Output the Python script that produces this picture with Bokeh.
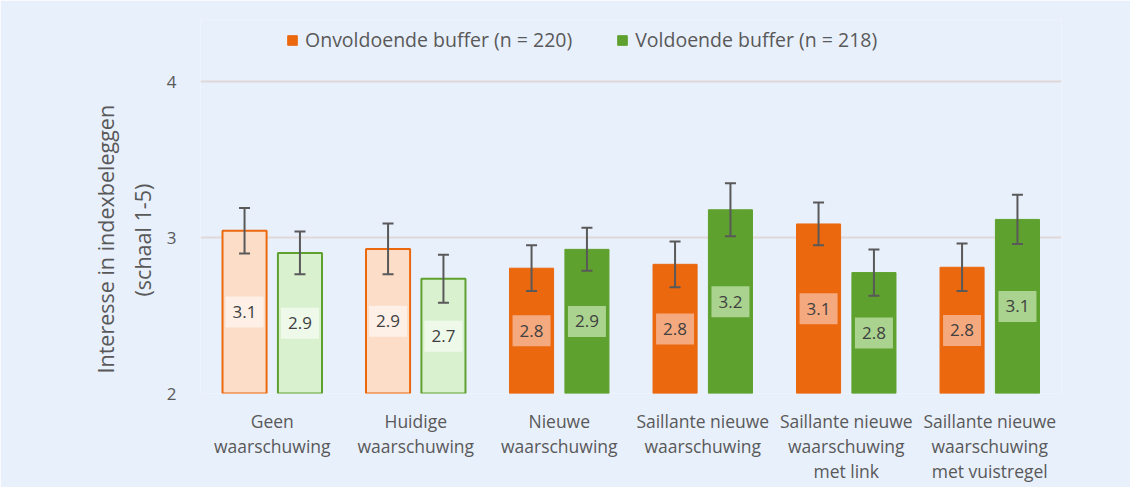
from bokeh.plotting import figure
from bokeh.models import (ColumnDataSource, FactorRange, Range1d, Whisker, TeeHead,
                          Legend, LegendItem, FixedTicker, Title)
from bokeh.transform import dodge
from bokeh.core.properties import value
from bokeh.embed import file_html
from bokeh.resources import INLINE

# ---------------- data ----------------
categories = [
    "Geen\nwaarschuwing",
    "Huidige\nwaarschuwing",
    "Nieuwe\nwaarschuwing",
    "Saillante nieuwe\nwaarschuwing",
    "Saillante nieuwe\nwaarschuwing\nmet link",
    "Saillante nieuwe\nwaarschuwing\nmet vuistregel",
]
onvoldoende = [3.045, 2.928, 2.804, 2.829, 3.088, 2.810]
voldoende = [2.902, 2.736, 2.925, 3.179, 2.776, 3.117]
onvoldoende_err = [0.146, 0.163, 0.147, 0.147, 0.137, 0.153]
voldoende_err = [0.137, 0.154, 0.138, 0.170, 0.148, 0.158]
onvoldoende_labels = ["3.1", "2.9", "2.8", "2.8", "3.1", "2.8"]
voldoende_labels = ["2.9", "2.7", "2.9", "3.2", "2.8", "3.1"]
series_names = ["Onvoldoende buffer (n = 220)", "Voldoende buffer (n = 218)"]
y_title_lines = ["Interesse in indexbeleggen", "(schaal 1-5)"]
y_ticks = [2, 3, 4]

# ---------------- styles ----------------
BG = "#E8F0FC"
ORANGE = "#EB680F"
GREEN = "#5EA12E"
LIGHT_ORANGE = "#FCDDC8"
LIGHT_GREEN = "#DAF1CF"
TEXT = "#595959"
FONT = "Open Sans"
light = [True, True, False, False, False, False]

o_fill = [LIGHT_ORANGE if l else ORANGE for l in light]
g_fill = [LIGHT_GREEN if l else GREEN for l in light]
o_line = [ORANGE for l in light]
g_line = [GREEN for l in light]
o_lw = [2 if l else 1 for l in light]
o_box = ["#FEF0E7" if l else "#F5A97E" for l in light]
g_box = ["#EEF9EA" if l else "#A9D38E" for l in light]

src = ColumnDataSource(dict(
    cat=categories,
    onv=onvoldoende, vol=voldoende,
    onv_up=[v + e for v, e in zip(onvoldoende, onvoldoende_err)],
    onv_lo=[v - e for v, e in zip(onvoldoende, onvoldoende_err)],
    vol_up=[v + e for v, e in zip(voldoende, voldoende_err)],
    vol_lo=[v - e for v, e in zip(voldoende, voldoende_err)],
    onv_mid=[(v + 2) / 2 for v in onvoldoende],
    vol_mid=[(v + 2) / 2 for v in voldoende],
    onv_lab=onvoldoende_labels, vol_lab=voldoende_labels,
    o_fill=o_fill, g_fill=g_fill, o_line=o_line, g_line=g_line, lw=o_lw,
    o_box=o_box, g_box=g_box,
))

p = figure(x_range=FactorRange(*categories), y_range=Range1d(2, 4.4),
           width=1130, height=487, output_backend="svg", toolbar_location=None,
           min_border_left=200, min_border_right=69, min_border_top=19,
           min_border_bottom=94, background_fill_color=BG, border_fill_color=BG,
           outline_line_color=None)

OFF = 0.193
BW = 0.307
xo = dodge("cat", -OFF, range=p.x_range)
xg = dodge("cat", OFF, range=p.x_range)

r_o = p.vbar(x=xo, top="onv", bottom=2, width=BW, fill_color="o_fill",
             line_color="o_line", line_width="lw", source=src)
r_g = p.vbar(x=xg, top="vol", bottom=2, width=BW, fill_color="g_fill",
             line_color="g_line", line_width="lw", source=src)

for base, up, lo in ((xo, "onv_up", "onv_lo"), (xg, "vol_up", "vol_lo")):
    w = Whisker(base=base, upper=up, lower=lo, source=src, level="overlay",
                line_color="#595959", line_width=2,
                upper_head=TeeHead(size=11, line_color="#595959", line_width=2),
                lower_head=TeeHead(size=11, line_color="#595959", line_width=2))
    p.add_layout(w)

for x, mid, box, lab in ((xo, "onv_mid", "o_box", "onv_lab"), (xg, "vol_mid", "g_box", "vol_lab")):
    p.rect(x=x, y=mid, width=38, height=31, width_units="screen", height_units="screen",
           fill_color=box, line_color=None, source=src)
    p.text(x=x, y=mid, text=lab, text_align="center", text_baseline="middle",
           text_font=value(FONT), text_font_size="17px", text_color="#404040", source=src)

legend = Legend(items=[LegendItem(label=series_names[0], renderers=[r_o], index=2),
                       LegendItem(label=series_names[1], renderers=[r_g], index=2)],
                orientation="horizontal", location=(86, 340), glyph_width=12, glyph_height=12,
                label_text_font=FONT, label_text_font_size="19.5px", label_text_color=TEXT,
                spacing=44, label_standoff=7, padding=0, margin=0,
                background_fill_alpha=0, border_line_color=None)
p.add_layout(legend)

p.ygrid.ticker = FixedTicker(ticks=y_ticks)
p.yaxis.ticker = FixedTicker(ticks=y_ticks)
p.ygrid.grid_line_color = "#E0D8D8"
p.ygrid.grid_line_width = 2
p.xgrid.grid_line_color = None

p.yaxis.axis_line_color = None
p.yaxis.major_tick_line_color = None
p.yaxis.minor_tick_line_color = None
p.yaxis.major_label_text_font = FONT
p.yaxis.major_label_text_font_size = "17px"
p.yaxis.major_label_text_color = TEXT
p.yaxis.major_label_standoff = 18

# y-axis title as two vertical titles, positioned along the 2..4 span
for txt, off, so in ((y_title_lines[1], 97, 13), (y_title_lines[0], 20, 0)):
    t = Title(text=txt, align="left", offset=off, text_font=FONT, text_font_size="21.5px",
              text_font_style="normal", text_color=TEXT, standoff=so)
    p.add_layout(t, "left")

p.xaxis.axis_line_color = None
p.xaxis.major_tick_line_color = None
p.xaxis.minor_tick_line_color = None
p.xaxis.major_label_text_font = FONT
p.xaxis.major_label_text_font_size = "17.5px"
p.xaxis.major_label_text_color = TEXT
p.xaxis.major_label_text_line_height = 1.05
p.xaxis.major_label_standoff = 9

open("out.html", "w").write(file_html(p, INLINE))
